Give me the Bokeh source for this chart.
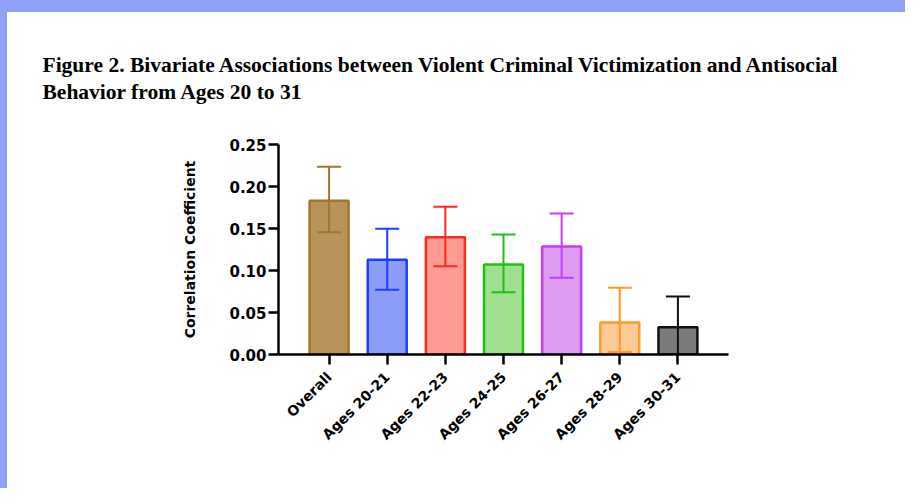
from bokeh.plotting import figure
from bokeh.models import FactorRange, ColumnDataSource, Title, FixedTicker, NumeralTickFormatter
from bokeh.embed import file_html
from bokeh.resources import INLINE
import math

# ---- data ----
categories = ["Overall", "Ages 20-21", "Ages 22-23", "Ages 24-25", "Ages 26-27", "Ages 28-29", "Ages 30-31"]
correlations = [0.183, 0.1127, 0.1397, 0.107, 0.1286, 0.038, 0.0325]
ci_lower = [0.1456, 0.077, 0.105, 0.074, 0.0913, 0.003, -0.004]
ci_upper = [0.2235, 0.1496, 0.176, 0.143, 0.168, 0.0794, 0.069]
fill_colors = ["#b9945a", "#8a9cf6", "#fd9b94", "#a0df90", "#dd9cf2", "#fdc994", "#7b7b7b"]
line_colors = ["#a3762f", "#1f3dff", "#ff2a1a", "#22c014", "#bf40f0", "#ff9a22", "#111111"]
y_ticks = [0.00, 0.05, 0.10, 0.15, 0.20, 0.25]
title_lines = [
    "Figure 2. Bivariate Associations between Violent Criminal Victimization and Antisocial",
    "Behavior from Ages 20 to 31",
]
y_label = "Correlation Coefficient"

src = ColumnDataSource(dict(
    cat=categories, r=correlations, lo=ci_lower, hi=ci_upper,
    fill=fill_colors, line=line_colors,
))

W, H = 905, 488
FL, FR, FT, FB = 278, 728, 144, 354   # frame edges in px
PAD = 0.37                            # category range padding (units)

p = figure(
    width=W, height=H,
    x_range=FactorRange(factors=categories, range_padding=PAD, range_padding_units="absolute"),
    y_range=(0, 0.25),
    output_backend="svg", toolbar_location=None,
    min_border_left=FL, min_border_right=W - FR,
    min_border_top=FT, min_border_bottom=H - FB,
)
band = "#8fa1f6"
p.border_fill_color = None
p.styles = {
    "background": (f"linear-gradient(to bottom, {band} 0px, {band} 12px, transparent 12px), "
                   f"linear-gradient(to right, {band} 0px, {band} 7px, white 7px)"),
}
p.background_fill_color = "white"
p.outline_line_color = None
p.xgrid.visible = False
p.ygrid.visible = False

# bars
p.vbar(x="cat", top="r", bottom=0, width=0.67, source=src,
       fill_color="fill", line_color="line", line_width=2.5)
# error bars
p.segment(x0="cat", y0="lo", x1="cat", y1="hi", source=src, line_color="line", line_width=2)
p.scatter(x="cat", y="hi", marker="dash", size=24, source=src, line_color="line", line_width=2)
p.scatter(x="cat", y="lo", marker="dash", size=24, source=src, line_color="line", line_width=2)

# axes
font = "DejaVu Sans"
for ax in (p.xaxis[0], p.yaxis[0]):
    ax.axis_line_width = 2.5
    ax.axis_line_color = "black"
    ax.major_tick_line_width = 2.5
    ax.major_tick_line_color = "black"
    ax.major_tick_in = 0
    ax.major_tick_out = 10
    ax.minor_tick_line_color = None
    ax.major_label_text_font = font
    ax.major_label_text_font_style = "bold"
    ax.major_label_text_color = "black"

p.yaxis.ticker = FixedTicker(ticks=y_ticks)
p.yaxis.formatter = NumeralTickFormatter(format="0.00")
p.yaxis.major_label_text_font_size = "15px"
p.yaxis.major_label_standoff = 2
p.yaxis.axis_label = y_label
p.yaxis.axis_label_text_font = font
p.yaxis.axis_label_text_font_style = "bold"
p.yaxis.axis_label_text_font_size = "14px"
p.yaxis.axis_label_text_color = "black"
p.yaxis.axis_label_standoff = 28

p.xaxis.major_label_orientation = math.pi / 4
p.xaxis.major_label_text_font_size = "14px"
p.xaxis.major_label_standoff = 10

# two-line title
p.add_layout(Title(
    text="\n".join(title_lines), align="left", offset=42 - FL, standoff=80,
    text_font="Liberation Serif", text_font_style="bold", text_line_height=1.15,
    text_font_size="21.5px", text_color="black",
), "above")

open("out.html", "w").write(file_html(p, INLINE))
